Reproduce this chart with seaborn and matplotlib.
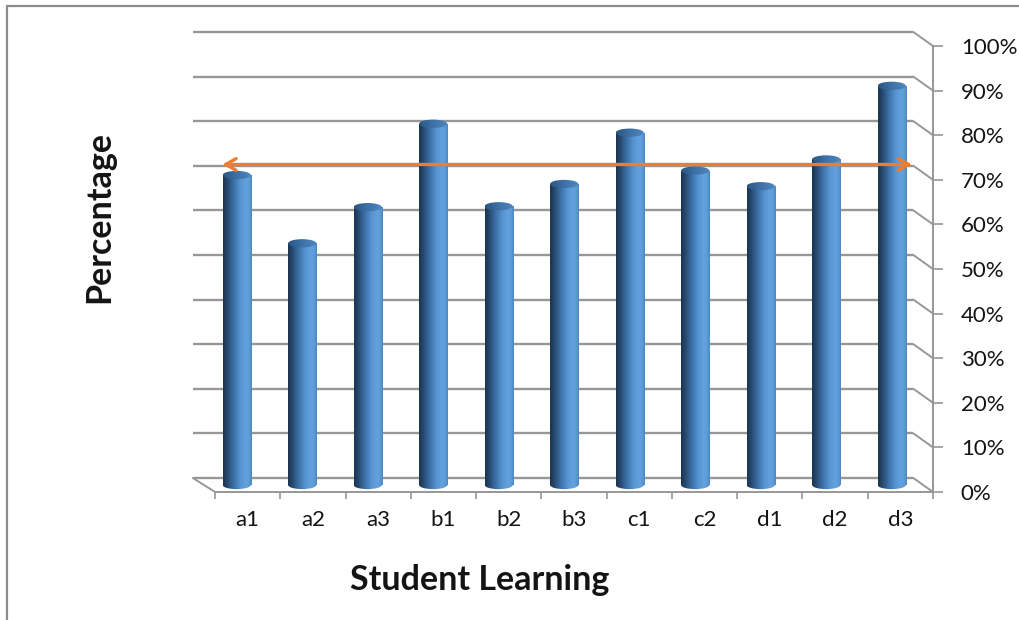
import numpy as np
import matplotlib
matplotlib.use("Agg")
import matplotlib.pyplot as plt
from matplotlib.patches import Rectangle, Ellipse
from matplotlib.colors import LinearSegmentedColormap
from matplotlib.lines import Line2D
import seaborn as sns

# ---- data ----
categories = ["a1", "a2", "a3", "b1", "b2", "b3", "c1", "c2", "d1", "d2", "d3"]
percent = [69.5, 54.2, 62.3, 81, 62.5, 67.5, 79, 70.5, 67, 73, 89.5]
y_ticks = [0, 10, 20, 30, 40, 50, 60, 70, 80, 90, 100]
y_tick_labels = [f"{v}%" for v in y_ticks]
reference_level = 70

# ---- style ----
sns.set_style("white")
plt.rcParams["font.family"] = ["Lato", "DejaVu Sans"]
TEXT = "#141414"
GRID = "#979797"
ORANGE = "#ED7D31"

W, H = 1020, 620
fig = plt.figure(figsize=(W / 100, H / 100), dpi=100)

# pseudo-3D depth offsets (back wall / front edge relative to the bar plane)
DY = 1.57
back_x = (-0.67, 10.33)
front_x = (-0.33, 10.63)
xlim = (-0.9, front_x[1])
ylim = (-DY, 106)

# axes placed in pixels
L, R = 177.75, 933.0
B, T = 492.0, 12.24
ax = fig.add_axes([L / W, (H - B) / H, (R - L) / W, (B - T) / H])

bar_w = 0.43
sns.barplot(x=categories, y=percent, width=bar_w, ax=ax, color="#4F81BD")

# back wall gridlines and the right-hand side wall edges
for v in y_ticks:
    ax.plot(back_x, [v + DY, v + DY], color=GRID, lw=1.7, zorder=1,
            solid_capstyle="butt")
    ax.plot([back_x[1], front_x[1]], [v + DY, v - DY], color=GRID, lw=1.4,
            zorder=1)
# floor left edge
ax.plot([back_x[0], front_x[0]], [DY, -DY], color=GRID, lw=1.4, zorder=1)

# cylinder shading
body_cmap = LinearSegmentedColormap.from_list(
    "body",
    [(0.0, "#1a3350"), (0.15, "#27496f"), (0.38, "#3d72aa"),
     (0.62, "#5896d3"), (0.82, "#63a2df"), (0.93, "#5b98d4"),
     (1.0, "#4a84bf")])
top_cmap = LinearSegmentedColormap.from_list(
    "top", [(0.0, "#2b5682"), (0.5, "#3e72a8"), (1.0, "#5288c0")])
grad = np.linspace(0, 1, 256)[None, :]
eh = 1.85  # ellipse height in data units

bars = list(ax.patches)
for p in bars:
    x0, w, h = p.get_x(), p.get_width(), p.get_height()
    p.set_visible(False)
    cx = x0 + w / 2
    for clip in (Rectangle((x0, 0), w, h, transform=ax.transData),
                 Ellipse((cx, 0), w, eh, transform=ax.transData)):
        im = ax.imshow(grad, cmap=body_cmap, extent=[x0, x0 + w, -eh, h],
                       aspect="auto", zorder=3, interpolation="bicubic")
        im.set_clip_path(clip)
    top = Ellipse((cx, h), w, eh, transform=ax.transData)
    im = ax.imshow(grad, cmap=top_cmap,
                   extent=[x0, x0 + w, h - eh, h + eh],
                   aspect="auto", zorder=4, interpolation="bicubic")
    im.set_clip_path(top)

# reference arrow across the chart
ax.annotate("", xy=(10.31, reference_level + DY + 0.3),
            xytext=(-0.22, reference_level + DY + 0.3),
            arrowprops=dict(arrowstyle="<->,head_length=0.75,head_width=0.42",
                            color=ORANGE, lw=2.4, shrinkA=0, shrinkB=0),
            zorder=6)

ax.set_xlim(*xlim)
ax.set_ylim(*ylim)

# spines
for s in ("left", "top"):
    ax.spines[s].set_visible(False)
ax.spines["bottom"].set_color(GRID)
ax.spines["bottom"].set_linewidth(1.4)
ax.spines["bottom"].set_bounds(*front_x)
ax.spines["right"].set_color(GRID)
ax.spines["right"].set_linewidth(1.4)
ax.spines["right"].set_bounds(-DY, 100 - DY)

# x axis: category labels and boundary ticks on the front edge
step = (front_x[1] - front_x[0]) / len(categories)
ax.set_xticks([front_x[0] + (i + 0.5) * step for i in range(len(categories))],
              categories)
ax.set_xticks([front_x[0] + i * step for i in range(len(categories) + 1)],
              minor=True)
ax.tick_params(axis="x", which="major", length=0, pad=13, labelsize=16,
               labelcolor=TEXT)
ax.tick_params(axis="x", which="minor", length=5.2, width=1.2, color=GRID,
               direction="out", bottom=True)

# y axis on the right, on the front plane
ax.yaxis.tick_right()
ax.set_yticks([v - DY for v in y_ticks], y_tick_labels)
ax.tick_params(axis="y", which="major", length=7, width=1.2, color=GRID,
               direction="out", pad=13, labelsize=16, labelcolor=TEXT,
               left=False, right=True)

ax.set_xlabel("Student Learning", fontsize=24.5, fontweight="bold",
              color=TEXT, va="center")
ax.xaxis.set_label_coords(0.4002, -0.1834)
ax.set_ylabel("Percentage", fontsize=24.5, fontweight="bold", color=TEXT,
              va="center")
ax.yaxis.set_label_position("left")
ax.yaxis.set_label_coords(-0.083, 0.573)

# chart area border (top and left edges)
fig.add_artist(Line2D([7.5 / W, 7.5 / W], [0, 1 - 6 / H],
                      transform=fig.transFigure, color="#8c8c8c", lw=1.6))
fig.add_artist(Line2D([7.5 / W, 1], [1 - 6 / H, 1 - 6 / H],
                      transform=fig.transFigure, color="#8c8c8c", lw=1.6))

fig.savefig("out.png", dpi=100, facecolor="white")
